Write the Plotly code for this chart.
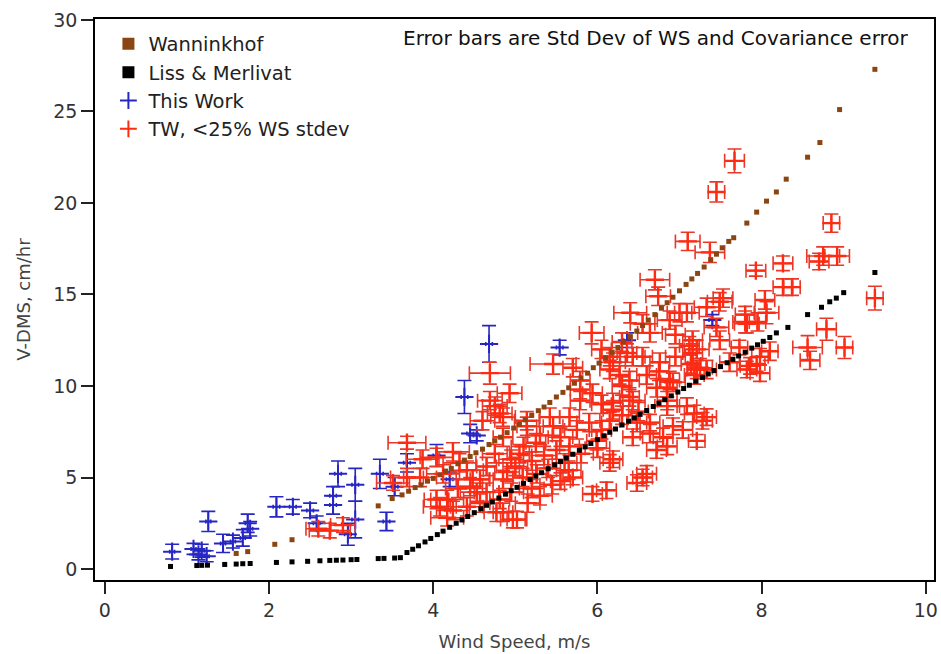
import plotly.graph_objects as go

# Wanninkhof parameterisation
wann_x = [1.60, 1.74, 2.07, 2.28, 3.33, 3.50, 3.62, 3.70, 3.78, 3.85, 3.93, 4.00, 4.08, 4.15,
          4.22, 4.30, 4.38, 4.45, 4.52, 4.60, 4.68, 4.75, 4.82, 4.90, 4.98, 5.05, 5.12, 5.20,
          5.28, 5.35, 5.42, 5.50, 5.58, 5.65, 5.72, 5.80, 5.88, 5.95, 6.02, 6.10, 6.18, 6.25,
          6.32, 6.40, 6.48, 6.55, 6.62, 6.70, 6.78, 6.85, 6.92, 7.00, 7.08, 7.15, 7.22, 7.30,
          7.38, 7.45, 7.52, 7.60, 7.66, 7.82, 7.94, 8.06, 8.18, 8.30, 8.56, 8.71, 8.95, 9.38]
wann_y = [0.85, 0.95, 1.35, 1.60, 3.45, 3.85, 4.05, 4.25, 4.45, 4.60, 4.80, 4.95, 5.15, 5.35,
          5.50, 5.75, 5.95, 6.15, 6.35, 6.55, 6.80, 7.00, 7.20, 7.45, 7.70, 7.90, 8.15, 8.40,
          8.65, 8.85, 9.10, 9.40, 9.65, 9.90, 10.15, 10.45, 10.70, 11.00, 11.25, 11.55, 11.85, 12.10,
          12.40, 12.70, 13.00, 13.30, 13.60, 13.90, 14.25, 14.55, 14.85, 15.20, 15.55, 15.85, 16.15, 16.50,
          16.90, 17.20, 17.55, 17.90, 18.10, 18.90, 19.50, 20.10, 20.60, 21.30, 22.50, 23.30, 25.10, 27.30]

# Liss & Merlivat parameterisation
lm_x = [0.80, 1.12, 1.18, 1.25, 1.46, 1.60, 1.68, 1.77, 2.09, 2.28, 2.47, 2.62, 2.74, 2.82,
        2.90, 3.00, 3.07, 3.33, 3.40, 3.53, 3.60, 3.68, 3.75, 3.82, 3.90, 3.97, 4.05, 4.12,
        4.20, 4.28, 4.35, 4.42, 4.50, 4.58, 4.65, 4.72, 4.80, 4.88, 4.95, 5.02, 5.10, 5.18,
        5.25, 5.32, 5.40, 5.48, 5.55, 5.62, 5.70, 5.78, 5.85, 5.92, 6.00, 6.08, 6.15, 6.22,
        6.30, 6.38, 6.45, 6.52, 6.60, 6.68, 6.75, 6.82, 6.90, 6.98, 7.05, 7.12, 7.20, 7.28,
        7.35, 7.42, 7.50, 7.58, 7.65, 7.72, 7.80, 7.88, 7.95, 8.02, 8.10, 8.18, 8.32, 8.56,
        8.73, 8.83, 8.91, 9.00, 9.38]
lm_y = [0.14, 0.19, 0.20, 0.21, 0.25, 0.27, 0.29, 0.30, 0.36, 0.39, 0.42, 0.45, 0.47, 0.48,
        0.49, 0.51, 0.52, 0.57, 0.58, 0.60, 0.62, 0.90, 1.08, 1.27, 1.48, 1.67, 1.88, 2.07,
        2.28, 2.50, 2.68, 2.87, 3.08, 3.29, 3.48, 3.66, 3.88, 4.09, 4.28, 4.46, 4.68, 4.89,
        5.08, 5.26, 5.48, 5.69, 5.87, 6.06, 6.27, 6.49, 6.67, 6.86, 7.07, 7.28, 7.47, 7.65,
        7.87, 8.08, 8.26, 8.45, 8.66, 8.88, 9.06, 9.25, 9.46, 9.67, 9.86, 10.04, 10.26, 10.47,
        10.66, 10.84, 11.06, 11.27, 11.46, 11.64, 11.85, 12.07, 12.25, 12.44, 12.65, 12.90, 13.20, 13.90,
        14.30, 14.60, 14.80, 15.10, 16.20]

# This Work (all points, blue)
tw_x = [0.82, 1.08, 1.14, 1.18, 1.24, 1.26, 1.44, 1.56, 1.68, 1.74, 1.77, 2.09, 2.29, 2.50,
        2.58, 2.78, 2.78, 2.84, 3.05, 3.05, 2.96, 3.35, 3.43, 3.53, 3.68, 4.04, 4.20, 4.45,
        4.38, 4.68, 4.53, 5.54, 6.36, 7.40]
tw_y = [0.95, 1.10, 0.80, 1.00, 0.70, 2.60, 1.40, 1.50, 1.70, 2.50, 2.20, 3.40, 3.40, 3.20,
        2.50, 3.50, 4.00, 5.20, 4.60, 2.70, 1.90, 5.20, 2.60, 4.50, 5.80, 6.20, 4.90, 7.40,
        9.40, 12.30, 7.30, 12.10, 12.50, 13.60]
tw_ex = [0.03, 0.03, 0.03, 0.03, 0.03, 0.03, 0.03, 0.03, 0.03, 0.03, 0.03, 0.04, 0.04, 0.04,
         0.04, 0.04, 0.04, 0.04, 0.04, 0.04, 0.04, 0.04, 0.04, 0.04, 0.04, 0.04, 0.04, 0.04,
         0.04, 0.04, 0.04, 0.04, 0.04, 0.04]
tw_ey = [0.40, 0.30, 0.30, 0.35, 0.30, 0.55, 0.50, 0.35, 0.45, 0.50, 0.40, 0.55, 0.40, 0.40,
         0.40, 0.50, 0.50, 0.70, 0.90, 1.00, 0.60, 0.80, 0.50, 0.50, 0.50, 0.60, 0.40, 0.50,
         0.90, 1.00, 0.30, 0.40, 0.40, 0.30]

# This Work, < 25% wind speed std dev (red)
red_x = [7.67, 7.45, 8.85, 8.75, 8.92, 8.70, 9.38, 8.56, 8.79, 9.01,
         8.26, 7.93, 8.26, 8.37, 8.04, 8.06, 7.80, 7.95, 8.10, 7.73,
         7.10, 7.37, 6.70, 6.74, 6.40, 7.00, 7.49, 7.82, 7.45, 7.21,
         7.25, 6.92, 6.43, 6.19, 6.55, 7.98, 7.94, 7.33, 7.21, 6.85,
         6.43, 6.15, 6.64, 7.04, 5.93, 6.64, 6.88, 7.09, 7.33, 7.53,
         7.80, 7.86, 7.16, 7.16, 7.14, 7.18, 7.12, 6.15, 6.36, 6.55,
         6.76, 6.39, 6.39, 6.19, 5.94, 5.79, 6.85, 7.49, 7.61, 7.33,
         5.46, 4.69, 6.15, 6.30, 6.72, 6.85, 5.79, 6.19, 6.48, 6.64,
         6.80, 6.72, 6.19, 6.55, 6.48, 6.11, 5.94, 5.70, 5.14, 5.46,
         5.66, 5.25, 5.05, 4.85, 4.65, 4.57, 4.85, 5.09, 5.26, 4.57,
         4.81, 4.85, 5.02, 4.69, 4.85, 4.93, 5.79, 6.27, 5.99, 5.66,
         5.42, 2.74, 2.90, 2.60, 3.51, 3.87, 4.04, 4.24, 4.32, 4.41,
         4.48, 4.12, 3.68, 3.84, 4.17, 4.08, 4.24, 4.41, 4.53, 4.17,
         3.68, 4.75, 4.81, 4.60, 5.14, 4.04, 4.45, 4.77, 4.97, 5.55,
         6.15, 6.60, 6.43, 6.05, 7.82, 7.98, 7.28, 7.18, 7.09, 6.92,
         6.85, 6.88, 7.21, 8.59, 5.00, 5.20, 5.35, 5.50, 5.30, 5.55,
         5.75, 5.90, 5.10, 4.95, 5.60, 5.80, 6.00, 5.40, 4.75, 4.90,
         5.45, 5.20, 5.65, 6.05, 6.30, 6.50, 6.60, 6.75, 6.95, 6.95,
         6.30, 6.05, 5.70, 4.30, 4.65, 4.95, 5.15, 5.30]
red_y = [22.3, 20.6, 18.9, 17.1, 17.1, 16.8, 14.8, 12.1, 13.1, 12.1,
         16.7, 16.3, 15.4, 15.4, 14.7, 14.0, 13.5, 13.5, 11.9, 12.1,
         17.9, 17.3, 15.8, 14.9, 14.0, 14.0, 14.6, 13.4, 13.2, 12.0,
         11.0, 10.2, 11.6, 11.3, 13.4, 11.6, 11.2, 8.3, 7.0, 8.9,
         9.2, 8.1, 8.0, 7.6, 12.9, 12.9, 13.6, 14.0, 14.3, 14.8,
         13.9, 11.1, 12.5, 11.8, 11.2, 10.6, 12.2, 11.6, 11.8, 11.6,
         11.3, 10.3, 9.4, 9.1, 9.6, 9.8, 9.9, 12.5, 11.3, 10.9,
         11.2, 10.7, 10.9, 10.0, 9.9, 9.2, 9.2, 8.7, 8.0, 7.4,
         7.2, 6.5, 6.0, 5.0, 4.7, 4.3, 4.1, 5.0, 7.8, 7.8,
         8.3, 6.9, 6.3, 7.2, 5.6, 4.9, 4.9, 5.0, 5.2, 3.6,
         3.8, 3.1, 2.7, 9.2, 8.3, 9.6, 10.3, 10.6, 7.0, 6.7,
         8.3, 2.1, 2.4, 2.2, 4.7, 6.0, 6.1, 6.4, 5.8, 5.4,
         4.9, 5.2, 5.0, 5.0, 3.8, 3.4, 3.2, 3.4, 4.2, 2.8,
         6.9, 8.9, 8.5, 8.1, 8.1, 3.8, 4.5, 3.1, 2.7, 4.8,
         5.8, 5.2, 7.2, 9.0, 10.9, 10.7, 8.1, 8.5, 8.9, 7.8,
         6.7, 10.3, 10.9, 11.4, 5.6, 5.9, 6.2, 6.5, 7.3, 7.2,
         7.6, 8.0, 6.7, 6.0, 5.8, 6.3, 6.6, 5.5, 6.3, 5.3,
         4.6, 4.4, 5.4, 7.6, 8.4, 8.6, 10.6, 10.8, 11.6, 12.8,
         12.4, 12.0, 11.0, 4.4, 4.2, 4.2, 3.6, 4.0]
red_ex = [0.12, 0.10, 0.10, 0.20, 0.15, 0.12, 0.10, 0.18, 0.12, 0.10,
          0.12, 0.12, 0.12, 0.10, 0.12, 0.15, 0.15, 0.10, 0.10, 0.10,
          0.15, 0.18, 0.18, 0.15, 0.20, 0.15, 0.15, 0.15, 0.15, 0.15,
          0.15, 0.15, 0.15, 0.15, 0.15, 0.10, 0.10, 0.12, 0.10, 0.15,
          0.15, 0.12, 0.12, 0.12, 0.15, 0.15, 0.15, 0.15, 0.15, 0.12,
          0.12, 0.12, 0.12, 0.12, 0.12, 0.12, 0.12, 0.12, 0.12, 0.12,
          0.12, 0.12, 0.12, 0.12, 0.12, 0.12, 0.12, 0.12, 0.12, 0.12,
          0.28, 0.25, 0.12, 0.12, 0.12, 0.12, 0.12, 0.12, 0.12, 0.12,
          0.12, 0.12, 0.12, 0.12, 0.12, 0.12, 0.12, 0.12, 0.12, 0.12,
          0.12, 0.12, 0.12, 0.12, 0.12, 0.12, 0.12, 0.12, 0.12, 0.12,
          0.12, 0.12, 0.12, 0.15, 0.15, 0.15, 0.12, 0.12, 0.12, 0.12,
          0.12, 0.25, 0.15, 0.15, 0.20, 0.20, 0.20, 0.20, 0.20, 0.20,
          0.20, 0.20, 0.20, 0.20, 0.20, 0.20, 0.20, 0.20, 0.20, 0.20,
          0.23, 0.15, 0.15, 0.15, 0.15, 0.15, 0.15, 0.15, 0.15, 0.12,
          0.12, 0.12, 0.12, 0.12, 0.12, 0.12, 0.12, 0.12, 0.12, 0.12,
          0.12, 0.12, 0.12, 0.12, 0.15, 0.15, 0.15, 0.15, 0.15, 0.15,
          0.15, 0.15, 0.15, 0.15, 0.15, 0.15, 0.15, 0.15, 0.15, 0.15,
          0.15, 0.15, 0.15, 0.12, 0.12, 0.12, 0.12, 0.12, 0.12, 0.12,
          0.12, 0.12, 0.12, 0.15, 0.15, 0.15, 0.15, 0.15]
red_ey = [0.65, 0.55, 0.50, 0.50, 0.50, 0.45, 0.65, 0.65, 0.60, 0.60,
          0.40, 0.30, 0.45, 0.45, 0.50, 0.60, 0.60, 0.50, 0.50, 0.40,
          0.50, 0.55, 0.55, 0.50, 0.55, 0.50, 0.50, 0.50, 0.50, 0.50,
          0.50, 0.50, 0.50, 0.50, 0.50, 0.45, 0.40, 0.45, 0.35, 0.50,
          0.50, 0.45, 0.45, 0.45, 0.60, 0.50, 0.50, 0.50, 0.50, 0.50,
          0.45, 0.45, 0.50, 0.50, 0.50, 0.50, 0.50, 0.50, 0.50, 0.50,
          0.50, 0.50, 0.50, 0.50, 0.50, 0.50, 0.50, 0.50, 0.50, 0.50,
          0.55, 0.60, 0.50, 0.50, 0.50, 0.50, 0.50, 0.50, 0.50, 0.50,
          0.50, 0.45, 0.45, 0.45, 0.45, 0.45, 0.40, 0.40, 0.50, 0.50,
          0.50, 0.50, 0.50, 0.50, 0.50, 0.50, 0.50, 0.50, 0.50, 0.50,
          0.50, 0.50, 0.45, 0.50, 0.50, 0.50, 0.50, 0.50, 0.50, 0.50,
          0.50, 0.40, 0.40, 0.40, 0.40, 0.50, 0.50, 0.50, 0.50, 0.50,
          0.50, 0.50, 0.50, 0.50, 0.50, 0.50, 0.50, 0.50, 0.50, 0.45,
          0.35, 0.50, 0.50, 0.50, 0.50, 0.50, 0.50, 0.50, 0.45, 0.45,
          0.45, 0.45, 0.45, 0.50, 0.45, 0.45, 0.45, 0.45, 0.45, 0.45,
          0.45, 0.50, 0.50, 0.50, 0.50, 0.50, 0.50, 0.50, 0.50, 0.50,
          0.50, 0.50, 0.50, 0.50, 0.50, 0.50, 0.50, 0.50, 0.50, 0.50,
          0.50, 0.50, 0.50, 0.50, 0.50, 0.50, 0.50, 0.50, 0.50, 0.50,
          0.50, 0.50, 0.50, 0.50, 0.50, 0.50, 0.50, 0.50]

x_ticks = [0, 2, 4, 6, 8, 10]
y_ticks = [0, 5, 10, 15, 20, 25, 30]

FONT = "DejaVu Sans"
BLUE = "#2626c4"
RED = "#ff2a12"
RED_ERR = "#e8382a"
BROWN = "#8b4513"

fig = go.Figure()

fig.add_trace(go.Scatter(
    x=tw_x, y=tw_y, mode="markers", name="This Work", legendrank=3,
    marker=dict(symbol="cross-thin", size=13, color=BLUE, line=dict(color=BLUE, width=2)),
    error_x=dict(type="data", array=tw_ex, color=BLUE, thickness=1.6, width=2),
    error_y=dict(type="data", array=tw_ey, color=BLUE, thickness=1.6, width=7),
))

fig.add_trace(go.Scatter(
    x=red_x, y=red_y, mode="markers", name="TW, <25% WS stdev", legendrank=4,
    marker=dict(symbol="cross-thin", size=13, color=RED, line=dict(color=RED, width=2.4)),
    error_x=dict(type="data", array=red_ex, color=RED_ERR, thickness=1.6, width=7),
    error_y=dict(type="data", array=red_ey, color=RED_ERR, thickness=1.6, width=7),
))

fig.add_trace(go.Scatter(
    x=wann_x, y=wann_y, mode="markers", name="Wanninkhof", legendrank=1,
    marker=dict(symbol="square", size=5, color=BROWN, line=dict(width=0)),
))

fig.add_trace(go.Scatter(
    x=lm_x, y=lm_y, mode="markers", name="Liss & Merlivat", legendrank=2,
    marker=dict(symbol="square", size=5, color="black", line=dict(width=0)),
))

fig.add_annotation(
    x=0.972, y=0.966, xref="paper", yref="paper", xanchor="right", yanchor="middle",
    text="Error bars are Std Dev of WS and Covariance error", showarrow=False,
    font=dict(family=FONT, size=20, color="#111"),
)

axis_common = dict(
    showgrid=False, zeroline=False, showline=True, linecolor="black", linewidth=1.5,
    mirror=True, ticks="outside", ticklen=12, tickwidth=1.5, tickcolor="#222",
    tickfont=dict(family=FONT, size=19, color="#333"), ticklabeloverflow="allow",
)

fig.update_xaxes(
    range=[-0.12, 10.1], tickvals=x_ticks, ticktext=[str(v) for v in x_ticks],
    title=dict(text="Wind Speed, m/s", font=dict(family=FONT, size=18, color="#444"), standoff=16),
    **axis_common,
)
fig.update_yaxes(
    range=[-0.6, 30.05], tickvals=y_ticks, ticktext=[str(v) for v in y_ticks],
    title=dict(text="V-DMS, cm/hr", font=dict(family=FONT, size=18, color="#444"), standoff=18),
    **axis_common,
)

fig.update_layout(
    width=941, height=654,
    margin=dict(l=95, r=7, t=19, b=74, autoexpand=False),
    plot_bgcolor="white", paper_bgcolor="white",
    showlegend=True,
    legend=dict(
        x=0.016, y=0.99, xanchor="left", yanchor="top",
        bgcolor="rgba(255,255,255,0)", borderwidth=0,
        font=dict(family=FONT, size=19.5, color="#222"),
        tracegroupgap=0, itemsizing="constant",
    ),
)

fig.write_html(
    "out.html",
    config={"displayModeBar": False},
    post_script="document.body.style.margin='0';document.body.style.overflow='hidden';",
)
